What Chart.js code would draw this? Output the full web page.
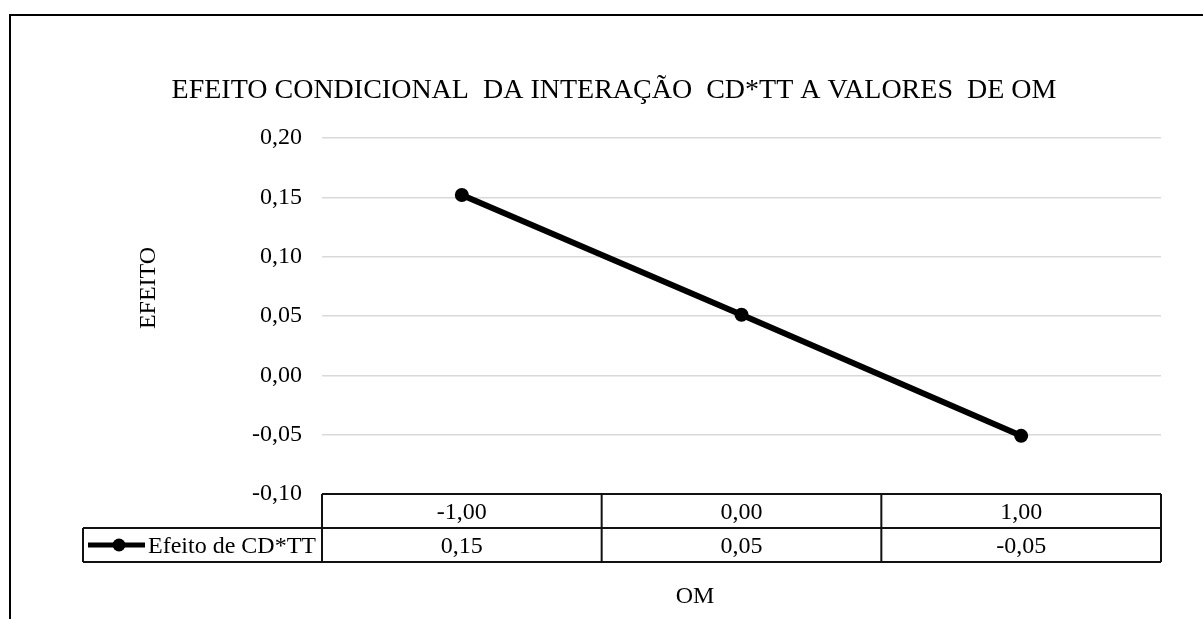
<!DOCTYPE html>
<html>
<head>
<meta charset="utf-8">
<script src="https://cdn.jsdelivr.net/npm/chart.js@4/dist/chart.umd.min.js"></script>
<style>
  html, body { margin: 0; padding: 0; background: #fff; }
  #wrap { width: 1203px; height: 619px; position: relative; }
</style>
</head>
<body>
<div id="wrap"><canvas id="efeito" width="1203" height="619"></canvas></div>
<script>
// data
const categories = ['-1,00', '0,00', '1,00'];
const efeitoValues = [0.152, 0.051, -0.051];
const seriesName = 'Efeito de CD*TT';
const yTicks = [-0.10, -0.05, 0.00, 0.05, 0.10, 0.15, 0.20];

const chartTitle = 'EFEITO CONDICIONAL  DA INTERAÇÃO  CD*TT A VALORES  DE OM';
const yTitle = 'EFEITO';
const xTitle = 'OM';

const FONT = '"Liberation Serif", "Times New Roman", serif';
const fmt = v => v.toFixed(2).replace('.', ',');

// draws frame, titles and the excel-like data table under the plot
const tablePlugin = {
    id: 'tablePlugin',
    afterDraw(chart) {
        const ctx = chart.ctx;
        const area = chart.chartArea;
        const xs = chart.scales.x;
        ctx.save();

        // outer frame (left + top only visible)
        ctx.strokeStyle = '#000';
        ctx.lineWidth = 2;
        ctx.beginPath();
        ctx.moveTo(10, 619);
        ctx.lineTo(10, 15);
        ctx.lineTo(1203, 15);
        ctx.stroke();

        ctx.fillStyle = '#000';
        ctx.textAlign = 'center';
        ctx.textBaseline = 'middle';

        ctx.font = '28px ' + FONT;
        ctx.fillText(chartTitle, 614, 91);

        ctx.font = '24px ' + FONT;
        ctx.save();
        ctx.translate(149, 288);
        ctx.rotate(-Math.PI / 2);
        ctx.fillText(yTitle, 0, 0);
        ctx.restore();

        ctx.fillText(xTitle, 695, 597);

        // table geometry
        const top = area.bottom;
        const rowH = 34;
        const legendLeft = 83;
        const edges = [area.left];
        for (let i = 1; i < categories.length; i++) {
            edges.push((xs.getPixelForValue(i - 1) + xs.getPixelForValue(i)) / 2);
        }
        edges.push(area.right);

        ctx.strokeStyle = '#111';
        ctx.lineWidth = 2;
        ctx.beginPath();
        ctx.moveTo(area.left, top); ctx.lineTo(area.right, top);
        ctx.moveTo(legendLeft, top + rowH); ctx.lineTo(area.right, top + rowH);
        ctx.moveTo(legendLeft, top + 2 * rowH); ctx.lineTo(area.right, top + 2 * rowH);
        ctx.moveTo(legendLeft, top + rowH); ctx.lineTo(legendLeft, top + 2 * rowH);
        edges.forEach(x => { ctx.moveTo(x, top); ctx.lineTo(x, top + 2 * rowH); });
        ctx.stroke();

        ctx.font = '24px ' + FONT;
        categories.forEach((c, i) => {
            const cx = xs.getPixelForValue(i);
            ctx.fillText(c, cx, top + rowH / 2 + 2);
            ctx.fillText(fmt(efeitoValues[i]), cx, top + rowH * 1.5 + 2);
        });

        // legend key inside the table
        const ly = top + rowH * 1.5;
        ctx.lineWidth = 5;
        ctx.strokeStyle = '#000';
        ctx.beginPath();
        ctx.moveTo(88, ly); ctx.lineTo(145, ly);
        ctx.stroke();
        ctx.beginPath();
        ctx.arc(119, ly, 6.5, 0, Math.PI * 2);
        ctx.fill();
        ctx.textAlign = 'left';
        ctx.fillText(seriesName, 148, ly + 2);

        ctx.restore();
    }
};

new Chart(document.getElementById('efeito'), {
    type: 'line',
    data: {
        labels: categories,
        datasets: [{
            label: seriesName,
            data: efeitoValues,
            borderColor: '#000',
            backgroundColor: '#000',
            borderWidth: 6,
            pointRadius: 7,
            pointBackgroundColor: '#000',
            pointBorderWidth: 0,
            tension: 0
        }]
    },
    options: {
        responsive: false,
        animation: false,
        devicePixelRatio: 1,
        layout: { padding: { top: 138, right: 42, left: 0, bottom: 0 } },
        plugins: {
            legend: { display: false },
            title: { display: false },
            tooltip: { enabled: false }
        },
        scales: {
            x: {
                offset: true,
                grid: { display: false },
                border: { display: false },
                ticks: { display: false },
                afterFit(scale) { scale.height = 125; }
            },
            y: {
                min: -0.10,
                max: 0.20,
                afterBuildTicks(scale) { scale.ticks = yTicks.map(v => ({ value: v })); },
                grid: { color: '#d9d9d9', lineWidth: 1.5, drawTicks: false },
                border: { display: false },
                ticks: {
                    padding: 20,
                    color: '#000',
                    font: { family: FONT, size: 24 },
                    callback: v => fmt(v)
                },
                afterFit(scale) { scale.width = 322; }
            }
        }
    },
    plugins: [tablePlugin]
});
</script>
</body>
</html>
